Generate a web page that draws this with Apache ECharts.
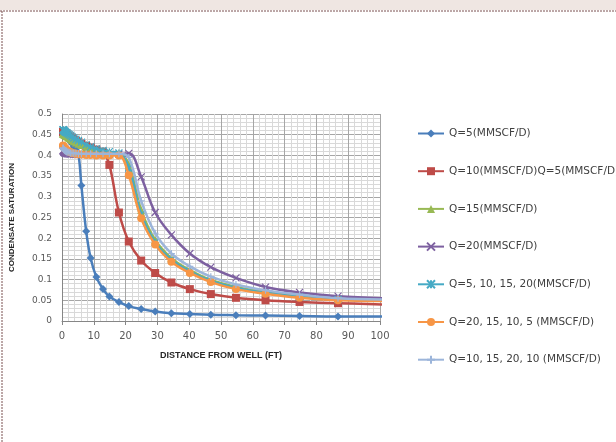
<!DOCTYPE html>
<html><head><meta charset="utf-8">
<script src="https://cdn.jsdelivr.net/npm/echarts@6/dist/echarts.min.js"></script>
<style>html,body{margin:0;padding:0;background:#fff}#c{width:616px;height:442px}</style>
</head><body><div id="c"></div>
<script>
const xDist = [0.31,0.37,0.43,0.51,0.6,0.71,0.84,0.99,1.17,1.38,1.62,1.91,2.26,2.67,3.15,3.71,4.38,5.17,6.1,7.6,9.0,10.8,12.9,14.9,17.9,21.0,24.9,29.3,34.4,40.2,46.8,54.7,64.0,74.7,86.8,101];
const seriesNames = ['Q=5(MMSCF/D)','Q=10(MMSCF/D)Q=5(MMSCF/D)','Q=15(MMSCF/D)','Q=20(MMSCF/D)','Q=5, 10, 15, 20(MMSCF/D)','Q=20, 15, 10, 5 (MMSCF/D)','Q=10, 15, 20, 10 (MMSCF/D)'];
const q5 = [0.452,0.452,0.451,0.451,0.450,0.449,0.448,0.447,0.446,0.444,0.442,0.440,0.437,0.433,0.428,0.421,0.413,0.403,0.327,0.217,0.152,0.106,0.077,0.059,0.046,0.036,0.029,0.023,0.019,0.017,0.015,0.014,0.013,0.012,0.011,0.011];
const q10 = [0.457,0.457,0.456,0.456,0.455,0.455,0.454,0.453,0.452,0.451,0.450,0.448,0.446,0.444,0.441,0.438,0.435,0.432,0.428,0.423,0.419,0.414,0.409,0.377,0.262,0.192,0.146,0.116,0.093,0.077,0.065,0.056,0.050,0.046,0.043,0.040];
const q15 = [0.453,0.453,0.452,0.452,0.451,0.451,0.450,0.449,0.448,0.447,0.446,0.444,0.442,0.440,0.437,0.434,0.431,0.428,0.425,0.420,0.416,0.412,0.409,0.407,0.405,0.378,0.268,0.196,0.152,0.123,0.099,0.082,0.070,0.061,0.053,0.050];
const q20 = [0.412,0.411,0.410,0.409,0.408,0.407,0.406,0.406,0.405,0.405,0.404,0.404,0.403,0.403,0.403,0.402,0.402,0.402,0.402,0.402,0.402,0.402,0.402,0.402,0.403,0.405,0.348,0.262,0.208,0.163,0.130,0.104,0.082,0.069,0.060,0.055];
const qInc = [0.462,0.462,0.461,0.461,0.460,0.459,0.458,0.457,0.456,0.455,0.454,0.452,0.450,0.448,0.445,0.442,0.439,0.436,0.432,0.426,0.421,0.416,0.412,0.409,0.406,0.370,0.258,0.190,0.148,0.120,0.097,0.080,0.068,0.058,0.052,0.049];
const qDec = [0.424,0.423,0.422,0.421,0.420,0.419,0.418,0.417,0.415,0.414,0.412,0.411,0.409,0.408,0.406,0.405,0.404,0.403,0.402,0.401,0.401,0.400,0.400,0.400,0.400,0.352,0.248,0.185,0.143,0.116,0.094,0.077,0.066,0.056,0.050,0.048];
const qMix = [0.418,0.417,0.416,0.415,0.414,0.413,0.412,0.411,0.410,0.409,0.408,0.408,0.407,0.406,0.406,0.405,0.405,0.404,0.404,0.404,0.404,0.404,0.404,0.404,0.404,0.395,0.290,0.212,0.163,0.132,0.107,0.088,0.074,0.064,0.055,0.052];

const colors = ['#4A7EBB','#BE4B48','#98B954','#7D60A0','#46AAC5','#F79646','#9CB5DA'];
const symbols = ['diamond','rect','triangle',
  'path://M0,0L10,10M10,0L0,10',
  'path://M0,0L10,10M10,0L0,10M5,0L5,10',
  'circle',
  'path://M5,0L5,10M0,5L10,5'];
const symSizes = [8,8,8,7,7,8,7];
const allY = [q5,q10,q15,q20,qInc,qDec,qMix];

const series = allY.map((ys,k)=>{
  const stroked = symbols[k].startsWith('path');
  return {
    name: seriesNames[k], type:'line', smooth:0.4,
    data: xDist.map((x,i)=>[x, ys[i]]),
    symbol: symbols[k], symbolSize: symSizes[k], showAllSymbol:true,
    lineStyle:{color:colors[k], width:2.5},
    itemStyle: stroked ? {color:colors[k], borderColor:colors[k], borderWidth:1.2} : {color:colors[k], borderColor:colors[k], borderWidth:0},
    clip:true, z: 2+k
  };
});

const chart = echarts.init(document.getElementById('c'), null, {renderer:'canvas'});
chart.setOption({
  animation:false,
  backgroundColor:'#ffffff',
  graphic:[
    {type:'rect', shape:{x:0,y:0,width:616,height:10}, style:{fill:'#EFE6E2'}, silent:true},
    {type:'line', shape:{x1:0,y1:11,x2:616,y2:11}, style:{stroke:'#7A5050', lineWidth:1, lineDash:[2,1]}, silent:true},
    {type:'line', shape:{x1:2,y1:11,x2:2,y2:442}, style:{stroke:'#7A5050', lineWidth:1, lineDash:[2,1]}, silent:true}
  ],
  grid:{left:61, right:236, top:114, bottom:121},
  legend:{
    orient:'vertical', left:417, top:128, padding:0, itemWidth:26, itemHeight:10, itemGap:26.7,
    textStyle:{color:'#404040', fontFamily:'DejaVu Sans', fontSize:10.5},
    data: seriesNames
  },
  xAxis:{
    type:'value', min:0, max:100, interval:10,
    name:'DISTANCE FROM WELL (FT)', nameLocation:'middle', nameGap:30,
    nameTextStyle:{fontFamily:'Liberation Sans', fontWeight:'bold', fontSize:9, color:'#262626'},
    axisLine:{show:true, onZero:false, lineStyle:{color:'#868686'}},
    axisTick:{show:true, length:4, lineStyle:{color:'#868686'}},
    axisLabel:{margin:10, color:'#595959', fontFamily:'DejaVu Sans', fontSize:10},
    splitLine:{show:true, lineStyle:{color:'#A6A6A6', width:1}},
    minorTick:{show:false, splitNumber:5},
    minorSplitLine:{show:true, lineStyle:{color:'#D9D9D9', width:1}}
  },
  yAxis:{
    type:'value', min:0, max:0.5, interval:0.05,
    name:'CONDENSATE SATURATION', nameLocation:'middle', nameGap:46, nameRotate:90,
    nameTextStyle:{fontFamily:'Liberation Sans', fontWeight:'bold', fontSize:8, color:'#262626'},
    axisLine:{show:true, lineStyle:{color:'#868686'}},
    axisTick:{show:false},
    axisLabel:{margin:10, color:'#595959', fontFamily:'DejaVu Sans', fontSize:9},
    splitLine:{show:true, lineStyle:{color:'#A6A6A6', width:1}},
    minorTick:{show:false, splitNumber:5},
    minorSplitLine:{show:true, lineStyle:{color:'#D9D9D9', width:1}}
  },
  series: series
});
</script></body></html>
